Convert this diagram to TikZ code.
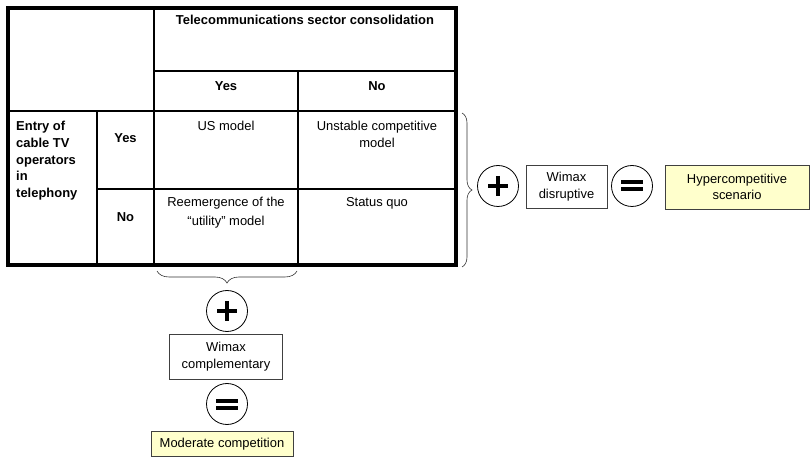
\documentclass[tikz,border=0pt]{standalone}
\usepackage{fontspec}
\setmainfont{Liberation Sans}
\usetikzlibrary{decorations.pathreplacing}
\definecolor{paleyellow}{HTML}{FFFFCC}
\begin{document}
\begin{tikzpicture}[x=1bp,y=-1bp,
  txt/.style={font=\fontsize{13}{16.5}\selectfont, inner sep=0pt, align=center},
  btxt/.style={font=\fontsize{13}{16.5}\selectfont\bfseries, inner sep=0pt},
  thickline/.style={line width=3.5bp},
  midline/.style={line width=2.2bp},
  thinline/.style={line width=1.2bp},
  opcirc/.style={circle, draw, line width=0.8bp, minimum size=41bp, inner sep=0pt},
  opbar/.style={line width=4bp},
  wbox/.style={txt, draw=black!75, line width=0.8bp, fill=white, inner sep=0pt},
  ybox/.style={txt, draw=black!75, line width=0.8bp, fill=paleyellow, inner sep=0pt},
  bracestyle/.style={decorate, line width=0.6bp, draw=black!80}
]
\useasboundingbox (0,0) rectangle (811,459);

% ---- table grid ----
\coordinate (tl) at (8,8);
\coordinate (br) at (456,265);
\draw[thinline] (154,71) -- (456,71);
\draw[thinline] (8,111) -- (456,111);
\draw[midline] (154,8) -- (154,265);
\draw[midline] (298,71) -- (298,265);
\draw[midline] (97,111) -- (97,265);
\draw[midline] (97,189) -- (456,189);
\draw[thickline] (tl) rectangle (br);

% ---- table texts ----
\node[btxt, anchor=base] (hdr) at (305,25) {Telecommunications sector consolidation};
\node[btxt, anchor=base] (cyes) at (226,91) {Yes};
\node[btxt, anchor=base] (cno) at (377,91) {No};
\node[btxt, anchor=base west] (e1) at (16,131) {Entry of};
\node[btxt, anchor=base west] (e2) at (16,148) {cable TV};
\node[btxt, anchor=base west] (e3) at (16,165) {operators};
\node[btxt, anchor=base west] (e4) at (16,181) {in};
\node[btxt, anchor=base west] (e5) at (16,198) {telephony};
\node[btxt, anchor=base] (ryes) at (125.5,143) {Yes};
\node[btxt, anchor=base] (rno) at (125.5,222) {No};
\node[txt, anchor=base] (us) at (226,131) {US model};
\node[txt, anchor=base] (un1) at (377,131) {Unstable competitive};
\node[txt, anchor=base] (un2) at (377,148) {model};
\node[txt, anchor=base] (re1) at (226,207) {Reemergence of the};
\node[txt, anchor=base] (re2) at (226,226) {“utility” model};
\node[txt, anchor=base] (sq) at (377,207) {Status quo};

% ---- right branch ----
\coordinate (rb1) at (462,113);
\coordinate (rb2) at (462,267);
\draw[bracestyle, decoration={brace, amplitude=10bp}] (rb1) -- (rb2);
\node[opcirc] (plusR) at (498,186) {};
\draw[opbar] (plusR.center) ++(-10,0) -- ++(20,0);
\draw[opbar] (plusR.center) ++(0,-10) -- ++(0,20);
\node[wbox, minimum width=81bp, minimum height=43bp] (wd) at (566.5,186.5) {Wimax\\disruptive};
\node[opcirc] (eqR) at (632,186) {};
\draw[opbar] (eqR.center) ++(-11,-3.5) -- ++(22,0);
\draw[opbar] (eqR.center) ++(-11,3.5) -- ++(22,0);
\node[ybox, minimum width=144bp, minimum height=44bp] (hyper) at (737,187) {Hypercompetitive\\scenario};

% ---- bottom branch ----
\coordinate (bb1) at (297,271);
\coordinate (bb2) at (157,271);
\draw[bracestyle, decoration={brace, amplitude=12bp}] (bb1) -- (bb2);
\node[opcirc] (plusB) at (227,311) {};
\draw[opbar] (plusB.center) ++(-10,0) -- ++(20,0);
\draw[opbar] (plusB.center) ++(0,-10) -- ++(0,20);
\node[wbox, minimum width=113bp, minimum height=45bp] (wc) at (226,356.5) {Wimax\\complementary};
\node[opcirc] (eqB) at (227,404) {};
\draw[opbar] (eqB.center) ++(-11,-3.5) -- ++(22,0);
\draw[opbar] (eqB.center) ++(-11,3.5) -- ++(22,0);
\node[ybox, minimum width=142bp, minimum height=25bp] (mod) at (222,444) {Moderate competition};
\end{tikzpicture}
\end{document}
